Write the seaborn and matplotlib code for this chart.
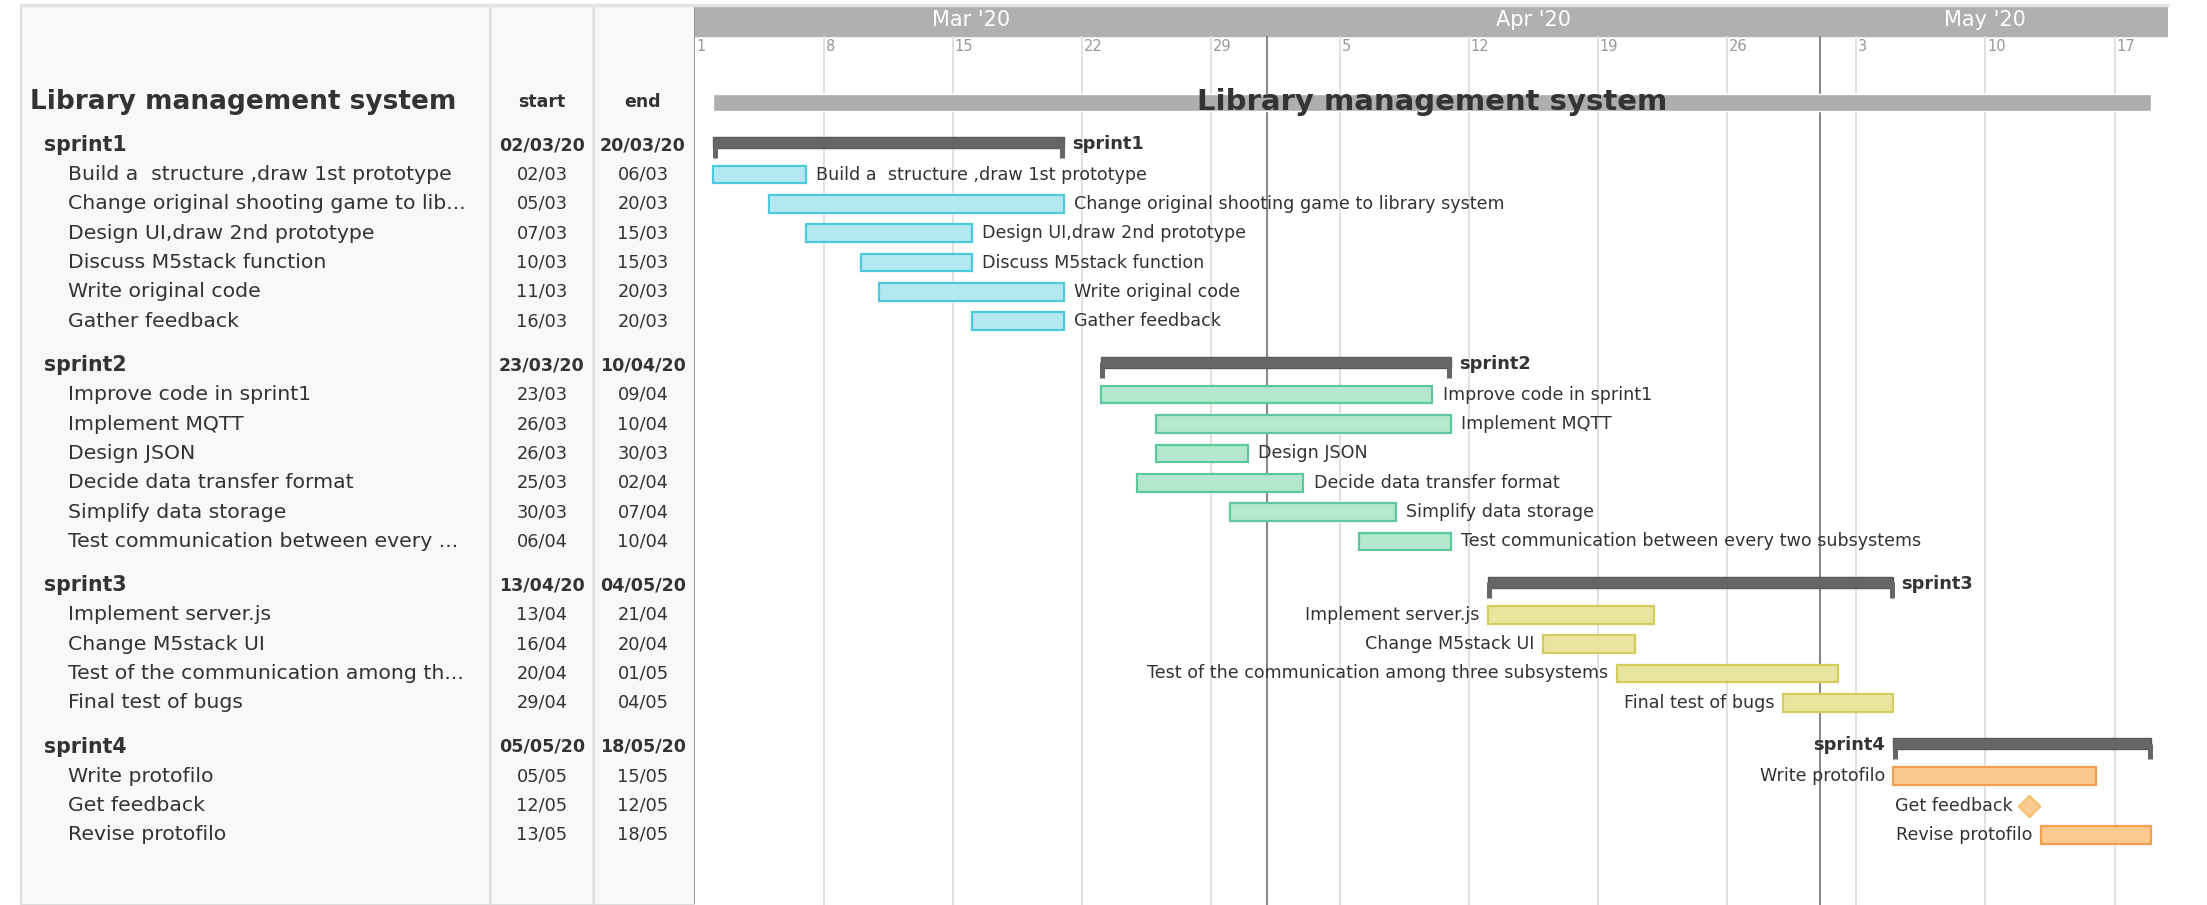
import numpy as np
import pandas as pd
import seaborn as sns
import matplotlib
matplotlib.use('Agg')
import matplotlib.pyplot as plt

# region data
project_name = 'Library management system'

sprint_names = ['sprint1', 'sprint2', 'sprint3', 'sprint4']
sprint_starts = ['2020-03-02', '2020-03-23', '2020-04-13', '2020-05-05']
sprint_ends = ['2020-03-20', '2020-04-10', '2020-05-04', '2020-05-18']

task_sprint = [0, 0, 0, 0, 0, 0,
               1, 1, 1, 1, 1, 1,
               2, 2, 2, 2,
               3, 3, 3]
task_names = ['Build a  structure ,draw 1st prototype',
              'Change original shooting game to library system',
              'Design UI,draw 2nd prototype',
              'Discuss M5stack function',
              'Write original code',
              'Gather feedback',
              'Improve code in sprint1',
              'Implement MQTT',
              'Design JSON',
              'Decide data transfer format',
              'Simplify data storage',
              'Test communication between every two subsystems',
              'Implement server.js',
              'Change M5stack UI',
              'Test of the communication among three subsystems',
              'Final test of bugs',
              'Write protofilo',
              'Get feedback',
              'Revise protofilo']
# names as they show in the (narrow) table column
task_table_names = ['Build a  structure ,draw 1st prototype',
                    'Change original shooting game to lib...',
                    'Design UI,draw 2nd prototype',
                    'Discuss M5stack function',
                    'Write original code',
                    'Gather feedback',
                    'Improve code in sprint1',
                    'Implement MQTT',
                    'Design JSON',
                    'Decide data transfer format',
                    'Simplify data storage',
                    'Test communication between every ...',
                    'Implement server.js',
                    'Change M5stack UI',
                    'Test of the communication among th...',
                    'Final test of bugs',
                    'Write protofilo',
                    'Get feedback',
                    'Revise protofilo']
task_starts = ['2020-03-02', '2020-03-05', '2020-03-07', '2020-03-10', '2020-03-11', '2020-03-16',
               '2020-03-23', '2020-03-26', '2020-03-26', '2020-03-25', '2020-03-30', '2020-04-06',
               '2020-04-13', '2020-04-16', '2020-04-20', '2020-04-29',
               '2020-05-05', '2020-05-12', '2020-05-13']
task_ends = ['2020-03-06', '2020-03-20', '2020-03-15', '2020-03-15', '2020-03-20', '2020-03-20',
             '2020-04-09', '2020-04-10', '2020-03-30', '2020-04-02', '2020-04-07', '2020-04-10',
             '2020-04-21', '2020-04-20', '2020-05-01', '2020-05-04',
             '2020-05-15', '2020-05-12', '2020-05-18']
task_milestone = [False] * 17 + [True, False]
# endregion

# styling
sprint_fill = ['#b3e8f1', '#b3e8cf', '#e8e59f', '#fbca8f']
sprint_edge = ['#4ec8dc', '#5fc79e', '#d2cd5e', '#f2a050']
task_label_side = ['right', 'right', 'left', 'left']
sprint_label_side = ['right', 'right', 'right', 'left']
text_color = '#333333'

base_day = pd.Timestamp('2020-03-01')
x_max = 79.9


def day(d):
    return (pd.Timestamp(d) - base_day).days


sns.set_theme(style='white')
plt.rcParams['font.family'] = ['DejaVu Sans']

W, H = 2207, 905
fig = plt.figure(figsize=(W / 100, H / 100), dpi=100)
fig.patch.set_facecolor('white')


def px_axes(x0, y0, x1, y1):
    return fig.add_axes([x0 / W, 1 - y1 / H, (x1 - x0) / W, (y1 - y0) / H])


row_h = 29.35
top_px, head_px = 6, 36
y_top = (top_px - head_px) / row_h
y_bot = (H - head_px) / row_h

# row layout
rows = []
y = 3.72
for s, sname in enumerate(sprint_names):
    if s > 0:
        y += 1.5
    rows.append(dict(kind='sprint', idx=s, y=y))
    for t in range(len(task_names)):
        if task_sprint[t] == s:
            y += 1.0
            rows.append(dict(kind='task', idx=t, y=y))
project_y = 2.26

# ---- left table ----
axl = px_axes(21, top_px, 695, H)
axl.set_xlim(21, 695)
axl.set_ylim(y_bot, y_top)
axl.set_facecolor('#f8f8f8')
axl.set_xticks([])
axl.set_yticks([])
for sp in axl.spines.values():
    sp.set_color('#dddddd')
    sp.set_linewidth(1.5)
axl.spines['right'].set_color('#999999')
for xs in [490, 593]:
    axl.axvline(xs, color='#e0e0e0', lw=1.8)

axl.text(30, project_y, project_name, fontsize=19, fontweight='bold',
         color=text_color, va='center', ha='left')
axl.text(542, project_y, 'start', fontsize=12.5, fontweight='bold', color=text_color, va='center', ha='center')
axl.text(643, project_y, 'end', fontsize=12.5, fontweight='bold', color=text_color, va='center', ha='center')

for r in rows:
    if r['kind'] == 'sprint':
        s = r['idx']
        axl.text(44, r['y'], sprint_names[s], fontsize=14.8, fontweight='bold',
                 color=text_color, va='center')
        axl.text(542, r['y'], pd.Timestamp(sprint_starts[s]).strftime('%d/%m/%y'), fontsize=12.6,
                 fontweight='bold', color=text_color, va='center', ha='center')
        axl.text(643, r['y'], pd.Timestamp(sprint_ends[s]).strftime('%d/%m/%y'), fontsize=12.6,
                 fontweight='bold', color=text_color, va='center', ha='center')
    else:
        t = r['idx']
        axl.text(68, r['y'], task_table_names[t], fontsize=14.7, color=text_color, va='center')
        axl.text(542, r['y'], pd.Timestamp(task_starts[t]).strftime('%d/%m'), fontsize=12.8,
                 color=text_color, va='center', ha='center')
        axl.text(643, r['y'], pd.Timestamp(task_ends[t]).strftime('%d/%m'), fontsize=12.8,
                 color=text_color, va='center', ha='center')

# ---- gantt ----
ax = px_axes(695, top_px, 2168, H)
ax.set_xlim(0, x_max)
ax.set_ylim(y_bot, y_top)
ax.set_xticks([])
ax.set_yticks([])
for sp in ax.spines.values():
    sp.set_visible(False)

# header bar with months
ax.axhspan(y_top, 0, color='#b0b0b0', zorder=1)
months = pd.date_range('2020-03-01', '2020-05-01', freq='MS')
for i, m in enumerate(months):
    m0 = day(m)
    m1 = min(day(m + pd.offsets.MonthBegin(1)), x_max)
    ax.text((m0 + m1) / 2 - 0.5, y_top / 2 - 0.05, m.strftime("%b '%y"), color='white',
            fontsize=15, ha='center', va='center', zorder=2)
    if i > 0:
        ax.vlines(m0, 0, y_bot, color='#8a8a8a', lw=1.5, zorder=1.5)

# weekly grid
weeks = pd.date_range('2020-03-01', '2020-05-19', freq='7D')
for w in weeks:
    d = day(w)
    if d > 0:
        ax.vlines(d, 0, y_bot, color='#dedede', lw=1.3, zorder=1)
    ax.text(d + 0.08, 0.36, str(w.day), color='#999999', fontsize=10.5, ha='left', va='center')

# project bar
p0, p1 = day(sprint_starts[0]), day(sprint_ends[-1]) + 1
ax.barh(project_y, p1 - p0, left=p0, height=0.6, color='#aeaeae', zorder=2)
ax.text((p0 + p1) / 2, project_y, project_name, fontsize=21, fontweight='bold',
        color=text_color, ha='center', va='center', zorder=3)

for r in rows:
    if r['kind'] == 'sprint':
        s = r['idx']
        s0, s1 = day(sprint_starts[s]), day(sprint_ends[s]) + 1
        ax.barh(r['y'] - 0.105, s1 - s0, left=s0, height=0.37, color='#666666',
                edgecolor='#5a5a5a', lw=1, zorder=3)
        ax.vlines([s0 + 0.09, s1 - 0.09], r['y'] - 0.1, r['y'] + 0.42, color='#666666', lw=3.6, zorder=3)
        if sprint_label_side[s] == 'right':
            ax.text(s1 + 0.45, r['y'] - 0.05, sprint_names[s], fontsize=12.8, fontweight='bold',
                    color=text_color, ha='left', va='center', zorder=4)
        else:
            ax.text(s0 - 0.45, r['y'] - 0.05, sprint_names[s], fontsize=12.8, fontweight='bold',
                    color=text_color, ha='right', va='center', zorder=4)
    else:
        t = r['idx']
        s = task_sprint[t]
        t0, t1 = day(task_starts[t]), day(task_ends[t]) + 1
        if task_milestone[t]:
            ms = pd.DataFrame({'x': [t0 + 0.35], 'y': [r['y']]})
            sns.scatterplot(data=ms, x='x', y='y', marker='D', s=120, color=sprint_fill[s],
                            edgecolor='#f5c070', linewidth=1.5, ax=ax, zorder=4, legend=False)
            t1 = t0 + 0.75
            t0 = t0 - 0.05
        else:
            ax.barh(r['y'], t1 - t0, left=t0, height=0.6, color=sprint_fill[s],
                    edgecolor=sprint_edge[s], lw=1.6, zorder=3)
        if task_label_side[s] == 'right':
            ax.text(t1 + 0.55, r['y'], task_names[t], fontsize=12.6, color=text_color,
                    ha='left', va='center', zorder=4)
        else:
            ax.text(t0 - 0.45, r['y'], task_names[t], fontsize=12.6, color=text_color,
                    ha='right', va='center', zorder=4)

ax.set_xlabel('')
ax.set_ylabel('')

# thin light rule along the top edge
fig.add_artist(plt.Line2D([21 / W, 2168 / W], [1 - 5 / H, 1 - 5 / H], color='#e4e4e4', lw=2.5))

plt.savefig('out.png', dpi=100)
plt.close()
